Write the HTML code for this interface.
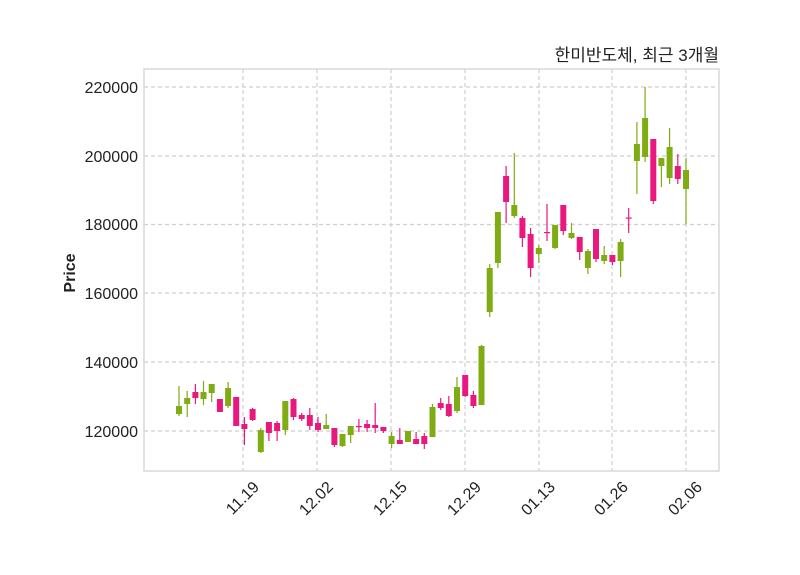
<!DOCTYPE html>
<html><head><meta charset="utf-8"><style>body{margin:0;background:#fff}svg{display:block}.g{stroke:#7fac12;fill:#7fac12}.p{stroke:#e8187e;fill:#e8187e}line{stroke-width:1.2}rect{stroke:none}</style></head><body>
<svg width="800" height="575" xmlns="http://www.w3.org/2000/svg" font-family="Liberation Sans, DejaVu Sans, sans-serif">
<rect width="800" height="575" fill="#fff"/>
<g stroke="#cfcfcf" stroke-dasharray="4,3" stroke-width="1">
<line x1="144" x2="719" y1="87" y2="87"/><line x1="144" x2="719" y1="156" y2="156"/><line x1="144" x2="719" y1="224.5" y2="224.5"/><line x1="144" x2="719" y1="293" y2="293"/><line x1="144" x2="719" y1="362" y2="362"/><line x1="144" x2="719" y1="431" y2="431"/>
<line y1="69" y2="471" x1="243" x2="243"/><line y1="69" y2="471" x1="317" x2="317"/><line y1="69" y2="471" x1="391" x2="391"/><line y1="69" y2="471" x1="465" x2="465"/><line y1="69" y2="471" x1="539" x2="539"/><line y1="69" y2="471" x1="612" x2="612"/><line y1="69" y2="471" x1="686" x2="686"/>
</g>
<rect x="144" y="69" width="575" height="402" fill="none" stroke="#d8d8d8" stroke-width="1.5" style="stroke:#d8d8d8"/>
<g>
<g class="g"><line x1="179" x2="179" y1="386" y2="416"/><rect x="176" y="406" width="6" height="8"/></g>
<g class="g"><line x1="187.2" x2="187.2" y1="391" y2="417"/><rect x="184.2" y="398" width="6" height="6"/></g>
<g class="p"><line x1="195.4" x2="195.4" y1="384" y2="404"/><rect x="192.4" y="392" width="6" height="6"/></g>
<g class="g"><line x1="203.5" x2="203.5" y1="381" y2="405"/><rect x="200.5" y="392" width="6" height="7"/></g>
<g class="g"><line x1="211.7" x2="211.7" y1="384" y2="402"/><rect x="208.7" y="384" width="6" height="9"/></g>
<g class="p"><line x1="219.9" x2="219.9" y1="399" y2="412"/><rect x="216.9" y="399" width="6" height="13"/></g>
<g class="g"><line x1="228.1" x2="228.1" y1="382" y2="408"/><rect x="225.1" y="388" width="6" height="18"/></g>
<g class="p"><line x1="236.2" x2="236.2" y1="397" y2="426"/><rect x="233.2" y="397" width="6" height="29"/></g>
<g class="p"><line x1="244.4" x2="244.4" y1="417" y2="445"/><rect x="241.4" y="424" width="6" height="5"/></g>
<g class="p"><line x1="252.6" x2="252.6" y1="408" y2="421"/><rect x="249.6" y="409" width="6" height="11"/></g>
<g class="g"><line x1="260.8" x2="260.8" y1="428" y2="453"/><rect x="257.8" y="430" width="6" height="22"/></g>
<g class="p"><line x1="268.9" x2="268.9" y1="422" y2="441"/><rect x="265.9" y="422" width="6" height="11"/></g>
<g class="p"><line x1="277.1" x2="277.1" y1="421" y2="441"/><rect x="274.1" y="423" width="6" height="8"/></g>
<g class="g"><line x1="285.3" x2="285.3" y1="401" y2="435"/><rect x="282.3" y="401" width="6" height="29"/></g>
<g class="p"><line x1="293.5" x2="293.5" y1="398" y2="420"/><rect x="290.5" y="399" width="6" height="18"/></g>
<g class="p"><line x1="301.7" x2="301.7" y1="413" y2="421"/><rect x="298.7" y="415" width="6" height="4"/></g>
<g class="p"><line x1="309.8" x2="309.8" y1="408" y2="430"/><rect x="306.8" y="415" width="6" height="11"/></g>
<g class="p"><line x1="318" x2="318" y1="417" y2="432"/><rect x="315" y="423" width="6" height="7"/></g>
<g class="g"><line x1="326.2" x2="326.2" y1="414" y2="429"/><rect x="323.2" y="425" width="6" height="4"/></g>
<g class="p"><line x1="334.4" x2="334.4" y1="428" y2="447"/><rect x="331.4" y="428" width="6" height="17"/></g>
<g class="g"><line x1="342.5" x2="342.5" y1="434" y2="447"/><rect x="339.5" y="434" width="6" height="12"/></g>
<g class="g"><line x1="350.7" x2="350.7" y1="426" y2="443"/><rect x="347.7" y="426" width="6" height="9"/></g>
<g class="p"><line x1="358.9" x2="358.9" y1="419" y2="432"/><rect x="355.9" y="426" width="6" height="1.2"/></g>
<g class="p"><line x1="367.1" x2="367.1" y1="420" y2="432"/><rect x="364.1" y="424" width="6" height="4"/></g>
<g class="p"><line x1="375.2" x2="375.2" y1="403" y2="433"/><rect x="372.2" y="425" width="6" height="3"/></g>
<g class="p"><line x1="383.4" x2="383.4" y1="427" y2="433"/><rect x="380.4" y="427" width="6" height="4"/></g>
<g class="g"><line x1="391.6" x2="391.6" y1="432" y2="448"/><rect x="388.6" y="436" width="6" height="8"/></g>
<g class="p"><line x1="399.8" x2="399.8" y1="428" y2="444"/><rect x="396.8" y="440" width="6" height="4"/></g>
<g class="g"><line x1="408" x2="408" y1="431" y2="442"/><rect x="405" y="431" width="6" height="11"/></g>
<g class="p"><line x1="416.1" x2="416.1" y1="432" y2="444"/><rect x="413.1" y="439" width="6" height="5"/></g>
<g class="p"><line x1="424.3" x2="424.3" y1="433" y2="449"/><rect x="421.3" y="436" width="6" height="8"/></g>
<g class="g"><line x1="432.5" x2="432.5" y1="404" y2="437"/><rect x="429.5" y="407" width="6" height="30"/></g>
<g class="p"><line x1="440.7" x2="440.7" y1="398" y2="410"/><rect x="437.7" y="403" width="6" height="5"/></g>
<g class="p"><line x1="448.8" x2="448.8" y1="396" y2="417"/><rect x="445.8" y="404" width="6" height="12"/></g>
<g class="g"><line x1="457" x2="457" y1="377" y2="413"/><rect x="454" y="387" width="6" height="24"/></g>
<g class="p"><line x1="465.2" x2="465.2" y1="375" y2="397"/><rect x="462.2" y="375" width="6" height="21"/></g>
<g class="p"><line x1="473.4" x2="473.4" y1="391" y2="408"/><rect x="470.4" y="395" width="6" height="11"/></g>
<g class="g"><line x1="481.5" x2="481.5" y1="345" y2="405"/><rect x="478.5" y="346" width="6" height="59"/></g>
<g class="g"><line x1="489.7" x2="489.7" y1="264" y2="317"/><rect x="486.7" y="268" width="6" height="44"/></g>
<g class="g"><line x1="497.9" x2="497.9" y1="212" y2="268"/><rect x="494.9" y="212" width="6" height="51"/></g>
<g class="p"><line x1="506.1" x2="506.1" y1="166" y2="223"/><rect x="503.1" y="176" width="6" height="26"/></g>
<g class="g"><line x1="514.3" x2="514.3" y1="153" y2="218"/><rect x="511.3" y="205" width="6" height="11"/></g>
<g class="p"><line x1="522.4" x2="522.4" y1="216" y2="247"/><rect x="519.4" y="218" width="6" height="20"/></g>
<g class="p"><line x1="530.6" x2="530.6" y1="228" y2="277"/><rect x="527.6" y="234" width="6" height="34"/></g>
<g class="g"><line x1="538.8" x2="538.8" y1="245" y2="263"/><rect x="535.8" y="248" width="6" height="6"/></g>
<g class="p"><line x1="547" x2="547" y1="204" y2="241"/><rect x="544" y="232" width="6" height="1.2"/></g>
<g class="g"><line x1="555.1" x2="555.1" y1="225" y2="249"/><rect x="552.1" y="225" width="6" height="23"/></g>
<g class="p"><line x1="563.3" x2="563.3" y1="205" y2="235"/><rect x="560.3" y="205" width="6" height="26"/></g>
<g class="g"><line x1="571.5" x2="571.5" y1="223" y2="239"/><rect x="568.5" y="233" width="6" height="5"/></g>
<g class="p"><line x1="579.7" x2="579.7" y1="237" y2="260"/><rect x="576.7" y="237" width="6" height="15"/></g>
<g class="g"><line x1="587.9" x2="587.9" y1="249" y2="274"/><rect x="584.9" y="251" width="6" height="17"/></g>
<g class="p"><line x1="596" x2="596" y1="229" y2="262"/><rect x="593" y="229" width="6" height="30"/></g>
<g class="g"><line x1="604.2" x2="604.2" y1="246" y2="264"/><rect x="601.2" y="255" width="6" height="6"/></g>
<g class="p"><line x1="612.4" x2="612.4" y1="255" y2="265"/><rect x="609.4" y="255" width="6" height="7"/></g>
<g class="g"><line x1="620.6" x2="620.6" y1="239" y2="277"/><rect x="617.6" y="242" width="6" height="19"/></g>
<g class="p"><line x1="628.7" x2="628.7" y1="208" y2="233"/><rect x="625.7" y="217.5" width="6" height="1.2"/></g>
<g class="g"><line x1="636.9" x2="636.9" y1="122" y2="194"/><rect x="633.9" y="144" width="6" height="17"/></g>
<g class="g"><line x1="645.1" x2="645.1" y1="87" y2="162"/><rect x="642.1" y="118" width="6" height="39"/></g>
<g class="p"><line x1="653.3" x2="653.3" y1="139" y2="204"/><rect x="650.3" y="139" width="6" height="62"/></g>
<g class="g"><line x1="661.4" x2="661.4" y1="158" y2="187"/><rect x="658.4" y="158" width="6" height="8"/></g>
<g class="g"><line x1="669.6" x2="669.6" y1="128" y2="184"/><rect x="666.6" y="147" width="6" height="31"/></g>
<g class="p"><line x1="677.8" x2="677.8" y1="154" y2="184"/><rect x="674.8" y="166" width="6" height="13"/></g>
<g class="g"><line x1="686" x2="686" y1="158" y2="224"/><rect x="683" y="170" width="6" height="19"/></g>
</g>
<g font-size="16" fill="#222" text-anchor="end">
<text x="138" y="93">220000</text><text x="138" y="162">200000</text><text x="138" y="230">180000</text><text x="138" y="299">160000</text><text x="138" y="368">140000</text><text x="138" y="437">120000</text>
</g>
<g font-size="16" fill="#222" text-anchor="end">
<text transform="translate(260,488) rotate(-45)">11.19</text>
<text transform="translate(334,488) rotate(-45)">12.02</text>
<text transform="translate(408,488) rotate(-45)">12.15</text>
<text transform="translate(482,488) rotate(-45)">12.29</text>
<text transform="translate(556,488) rotate(-45)">01.13</text>
<text transform="translate(629,488) rotate(-45)">01.26</text>
<text transform="translate(703,488) rotate(-45)">02.06</text>
</g>
<text transform="translate(75,273) rotate(-90)" font-size="16" font-weight="bold" fill="#222" text-anchor="middle">Price</text>
<text x="719" y="61" font-size="17" fill="#222" text-anchor="end" font-family="Liberation Sans, Noto Sans CJK KR, sans-serif">한미반도체, 최근 3개월</text>
</svg>
</body></html>
